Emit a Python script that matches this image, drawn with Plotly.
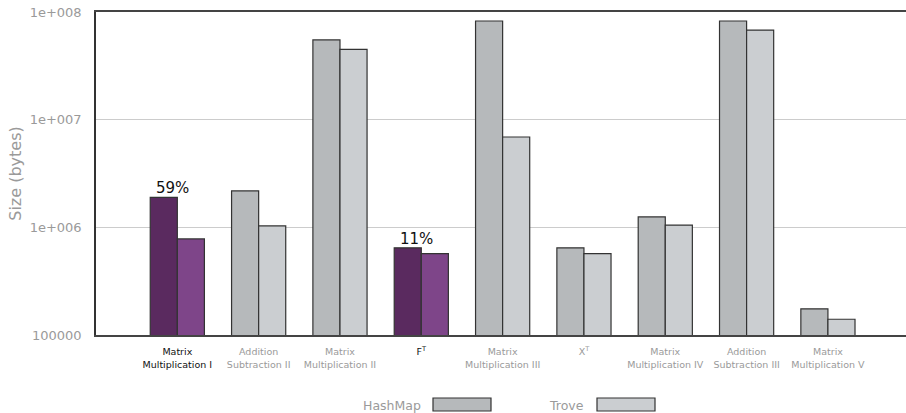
import math
import plotly.graph_objects as go

# Memory footprint per benchmark (bytes)
categories = [
    "Matrix<br>Multiplication I",
    "Addition<br>Subtraction II",
    "Matrix<br>Multiplication II",
    "F<sup>T</sup>",
    "Matrix<br>Multiplication III",
    "X<sup>T</sup>",
    "Matrix<br>Multiplication IV",
    "Addition<br>Subtraction III",
    "Matrix<br>Multiplication V",
]
hashmap = [1.9e6, 2.18e6, 5.5e7, 6.45e5, 8.25e7, 6.45e5, 1.25e6, 8.25e7, 1.75e5]
trove = [7.8e5, 1.03e6, 4.5e7, 5.7e5, 6.9e6, 5.7e5, 1.05e6, 6.8e7, 1.4e5]
highlighted = [0, 3]
savings_labels = {0: "59%", 3: "11%"}

ytick_vals = [1e5, 1e6, 1e7, 1e8]
ytick_text = ["100000", "1e+006", "1e+007", "1e+008"]

HM_GREY, TR_GREY = "#b6b9bb", "#cbced1"
HM_PURPLE, TR_PURPLE = "#5a2a5f", "#7e4589"
MUTED = "#9a9a9a"
FONT = "DejaVu Sans"

x = list(range(len(categories)))
hm_colors = [HM_PURPLE if i in highlighted else HM_GREY for i in x]
tr_colors = [TR_PURPLE if i in highlighted else TR_GREY for i in x]

fig = go.Figure()
fig.add_trace(go.Bar(x=x, y=hashmap, name="HashMap",
                     marker=dict(color=hm_colors, line=dict(color="#333333", width=1.2))))
fig.add_trace(go.Bar(x=x, y=trove, name="Trove",
                     marker=dict(color=tr_colors, line=dict(color="#333333", width=1.2))))

for i, txt in savings_labels.items():
    fig.add_annotation(x=i, y=math.log10(hashmap[i]), xshift=-4.5, text=txt,
                       showarrow=False, yanchor="bottom", yshift=-2,
                       font=dict(family=FONT, size=15, color="#111111"))

tick_text = [
    f"<span style='color:#111111'>{c}</span>" if i in highlighted
    else f"<span style='color:{MUTED}'>{c}</span>"
    for i, c in enumerate(categories)
]

fig.update_layout(
    width=906, height=413,
    margin=dict(l=96, r=0, t=12, b=78),
    paper_bgcolor="white", plot_bgcolor="white",
    barmode="group", bargap=0.334, bargroupgap=0,
    showlegend=False,
    font=dict(family=FONT, color=MUTED),
    xaxis=dict(range=[-1, 8.96], tickvals=x, ticktext=tick_text,
               tickfont=dict(family=FONT, size=9.5),
               ticklabelstandoff=7,
               showgrid=False, zeroline=False, ticks="",
               showline=True, linecolor="#444444", linewidth=1.5, mirror=True),
    yaxis=dict(type="log", range=[5, 8], tickvals=ytick_vals, ticktext=ytick_text,
               tickfont=dict(family=FONT, size=13, color=MUTED),
               ticklabelstandoff=10,
               showgrid=True, gridcolor="#cccccc", gridwidth=1.3,
               zeroline=False, ticks="",
               showline=True, linecolor="#333333", linewidth=1.5,
               title=dict(text="Size (bytes)", standoff=4,
                          font=dict(family=FONT, size=16, color=MUTED))),
)

# Legend: label followed by a swatch, laid out along the bottom
legend_items = [("HashMap", HM_GREY, 423, 433), ("Trove", TR_GREY, 586, 597)]
for label, color, text_right, sw_left in legend_items:
    fig.add_annotation(xref="paper", yref="paper",
                       x=(text_right - 96) / 810, y=(413 - 78 - 405) / 323,
                       text=label, showarrow=False, xanchor="right", yanchor="middle",
                       xshift=0, font=dict(family=FONT, size=12.5, color=MUTED))
    fig.add_shape(type="rect", xref="paper", yref="paper",
                  x0=(sw_left - 96) / 810, x1=(sw_left + 58 - 96) / 810,
                  y0=(413 - 78 - 411) / 323, y1=(413 - 78 - 398) / 323,
                  fillcolor=color, line=dict(color="#333333", width=1.2))

fig.write_html("out.html")
